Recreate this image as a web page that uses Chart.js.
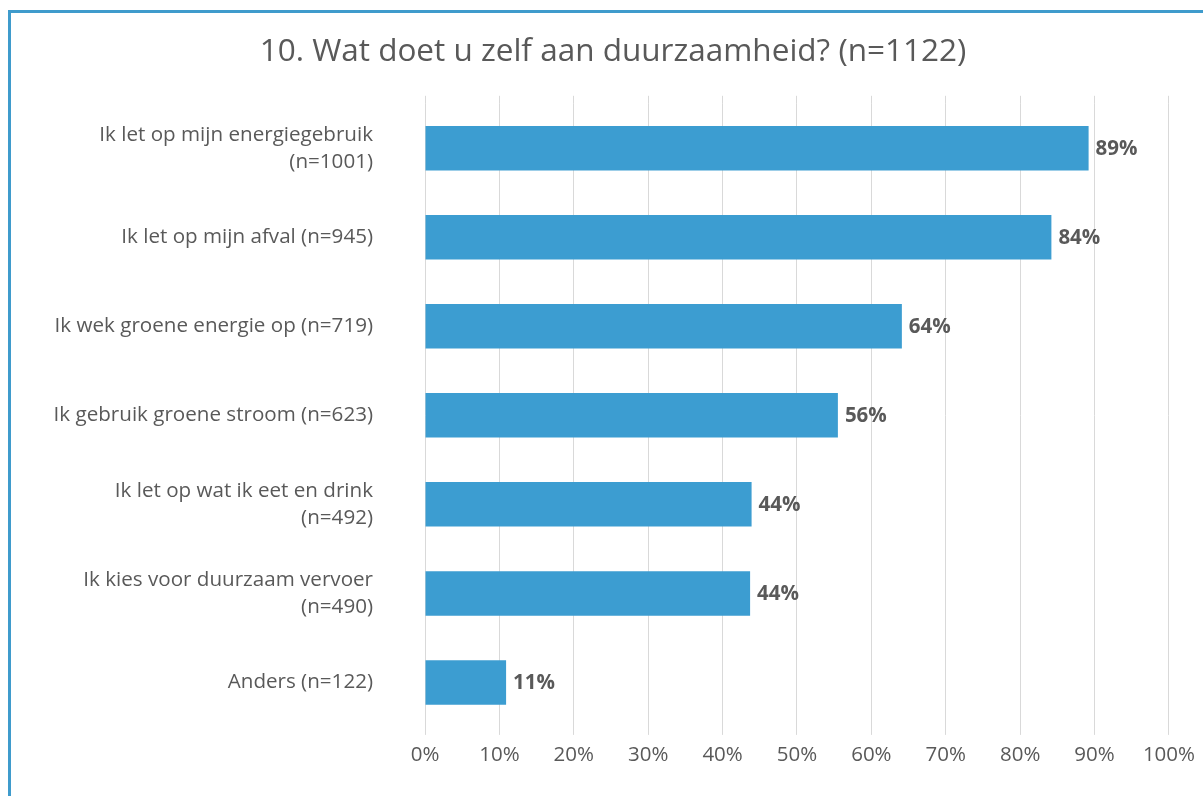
<!DOCTYPE html>
<html>
<head>
<meta charset="utf-8">
<script src="https://cdn.jsdelivr.net/npm/chart.js@4/dist/chart.umd.min.js"></script>
<style>
  html, body { margin: 0; padding: 0; background: #ffffff; }
  #wrap { position: absolute; left: 0; top: 0; width: 1203px; height: 796px; }
  #frame { position: absolute; left: 8px; top: 10px; width: 1300px; height: 900px;
           border-left: 3px solid #3f9bcc; border-top: 3px solid #3f9bcc; pointer-events: none; }
</style>
</head>
<body>
<div id="wrap">
  <canvas id="myChart"></canvas>
  <div id="frame"></div>
</div>
<script>
const chartTitle = '10. Wat doet u zelf aan duurzaamheid? (n=1122)';

const categories = [
    ['Ik let op mijn energiegebruik', '(n=1001)'],
    'Ik let op mijn afval (n=945)',
    'Ik wek groene energie op (n=719)',
    'Ik gebruik groene stroom (n=623)',
    ['Ik let op wat ik eet en drink', '(n=492)'],
    ['Ik kies voor duurzaam vervoer', '(n=490)'],
    'Anders (n=122)'
];

const percentages = [89.2, 84.2, 64.1, 55.5, 43.9, 43.7, 10.9];

const grey = '#595959';
const gridGrey = '#d9d9d9';
const fontFamily = '"Open Sans", Lato, sans-serif';

// value labels at the end of each bar
const barLabels = {
    id: 'barLabels',
    afterDatasetsDraw(chart) {
        const c = chart.ctx;
        const meta = chart.getDatasetMeta(0);
        c.save();
        c.font = 'bold 20.5px ' + fontFamily;
        c.fillStyle = grey;
        c.textAlign = 'left';
        c.textBaseline = 'middle';
        meta.data.forEach((bar, i) => {
            c.fillText(Math.round(percentages[i]) + '%', bar.x + 7, bar.y + 1);
        });
        c.restore();
    }
};

// gridlines run a little above the plot area, like in Excel;
// the title is centred on the framed picture rather than the full canvas
const gridTop = {
    id: 'gridTop',
    afterLayout(chart) {
        if (chart.titleBlock) chart.titleBlock.left = 57;
    },
    beforeDatasetsDraw(chart) {
        const c = chart.ctx;
        const x = chart.scales.x;
        const top = chart.chartArea.top;
        c.save();
        c.strokeStyle = gridGrey;
        c.lineWidth = 1;
        x.ticks.forEach((t) => {
            const px = Math.round(x.getPixelForValue(t.value) - 0.5) + 0.5;
            c.beginPath();
            c.moveTo(px, top - 8);
            c.lineTo(px, top);
            c.stroke();
        });
        c.restore();
    }
};

const ctx = document.getElementById('myChart');

new Chart(ctx, {
    type: 'bar',
    data: {
        labels: categories,
        datasets: [{
            data: percentages,
            backgroundColor: '#3c9dd1',
            borderWidth: 0,
            categoryPercentage: 1,
            barPercentage: 0.5
        }]
    },
    options: {
        indexAxis: 'y',
        responsive: true,
        maintainAspectRatio: false,
        animation: false,
        layout: {
            padding: { top: 20, right: 34, bottom: 20.5, left: 0 }
        },
        scales: {
            x: {
                min: 0,
                max: 100,
                grid: { color: gridGrey, lineWidth: 1, tickLength: 8, tickColor: gridGrey },
                border: { display: false },
                ticks: {
                    stepSize: 10,
                    padding: 8,
                    color: grey,
                    font: { family: fontFamily, size: 20.5 },
                    callback: (value) => value + '%'
                }
            },
            y: {
                grid: { display: true, drawOnChartArea: false, drawTicks: true, tickLength: 42, tickColor: 'rgba(0,0,0,0)' },
                border: { display: false },
                afterFit: (scale) => { scale.width = 425; },
                ticks: {
                    padding: 10,
                    color: grey,
                    font: { family: fontFamily, size: 20.6, lineHeight: 1.31 }
                }
            }
        },
        plugins: {
            legend: { display: false },
            tooltip: { enabled: false },
            title: {
                display: true,
                text: chartTitle,
                color: grey,
                font: { family: fontFamily, size: 31.5, weight: 'normal', lineHeight: 1.2 },
                padding: { top: 13, bottom: 33 }
            }
        }
    },
    plugins: [barLabels, gridTop]
});
</script>
</body>
</html>
